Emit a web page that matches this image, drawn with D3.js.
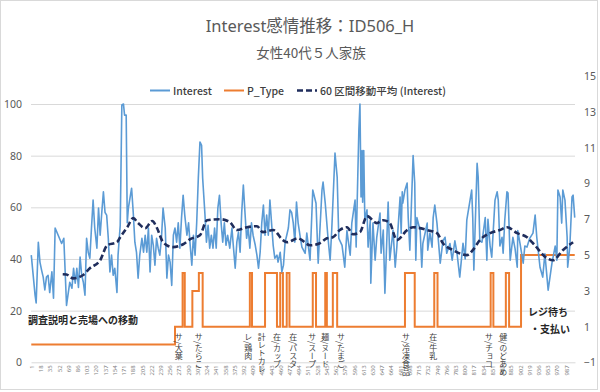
<!DOCTYPE html>
<html><head><meta charset="utf-8">
<script src="https://cdn.jsdelivr.net/npm/d3@7"></script>
<style>body{margin:0;background:#fff}</style>
</head><body><svg id="c" width="600" height="392"></svg>
<script>
const titleText = "Interest感情推移：ID506_H";
const subtitleText = "女性40代５人家族";
const categoryCount = 1003;
const xTickLabels = [1,18,35,52,69,86,103,120,137,154,171,188,205,222,239,256,273,290,307,324,341,358,375,392,409,426,443,460,477,494,511,528,545,562,579,596,613,630,647,664,681,698,715,732,749,766,783,800,817,834,851,868,885,902,919,936,953,970,987];
const leftTicks = [0,20,40,60,80,100];
const rightTicks = [-1,1,3,5,7,9,11,13,15];
const seriesNames = ["Interest","P_Type","60 区間移動平均 (Interest)"];

const interestCat = [1,8,10,14,17,20,23,26,29,32,35,39,42,45,57,61,66,72,76,79,82,85,88,91,94,97,100,103,106,109,112,115,118,122,125,128,131,134,137,140,143,146,149,152,155,159,161,165,168,171,173,176,178,180,183,186,189,192,195,198,201,205,208,211,214,217,220,223,226,229,232,235,238,241,244,248,251,254,257,260,263,266,269,272,275,278,281,284,288,291,294,297,300,303,306,309,312,315,317,319,321,324,327,330,333,336,339,342,345,348,351,354,357,360,363,367,371,373,377,380,383,386,389,392,395,398,401,404,407,410,414,417,420,423,426,429,432,435,438,441,444,447,450,454,456,460,463,466,469,472,475,478,481,484,487,490,493,497,500,506,509,515,520,526,530,537,539,543,548,552,555,561,565,568,574,579,583,589,592,598,600,603,605,607,609,611,612,614,616,620,622,626,627,631,635,638,644,646,650,653,659,662,668,672,675,681,683,685,686,690,694,696,699,705,708,710,712,718,721,723,731,732,736,740,742,745,749,755,760,764,767,773,777,782,786,791,797,801,804,810,813,815,817,823,825,828,832,838,841,843,847,850,856,860,862,865,869,871,874,878,880,884,889,893,897,898,902,908,911,915,920,926,930,933,939,944,948,954,961,967,970,972,976,979,981,985,989,990,994,998,1000,1003];
const interestVal = [41.5,26,23,46.5,38.8,35.7,33,28,33,33.7,27,35,24.8,52,46,48,22,31,28.7,36.4,30.6,36.4,29,40.7,33.7,31,26,48,42.6,40.3,52,62.8,52,44.2,59.7,49.2,58,66,58,57,48,35,41.5,33.7,36.4,27,41.5,53,99.6,100,95.7,95.7,54,59.7,63.6,67.4,58,46.5,42.6,32.6,41.5,48,42.6,49.2,42.6,52,35,49.2,45.3,37.6,48,44.2,41.5,48,59.7,52,32.6,41.5,38.8,29.8,49.2,52,46.5,54,44.2,55.8,64.7,57,49.2,54,45.3,37.6,49.2,41.5,54,71.3,85.3,84,71.3,64.7,58,46.5,53,44.2,49.2,44.2,52,44.2,59.7,64.7,54,46.5,54,45.3,49.2,44.2,52,46.5,36.4,46.5,50.4,42.6,58,68.6,58,48,52,44.2,54,49.2,45.3,41.5,36.4,42.6,54,60.9,49.2,57,49.2,62.8,54,45.3,40.3,41.5,38.8,42.6,35,37.6,46.5,49.2,52,59,58,54,46.5,62,54,48.4,44.6,42.2,50,39.5,66.7,61.6,38.4,66.7,69.8,61.6,48.4,39.5,51.2,81,71.7,48,45.3,36.8,51,41.5,53.9,62.8,44.6,72,90,100,64,82,62,82,55,59,44.6,55,30.6,53.9,39.5,48.4,57.8,42.2,51.2,26.7,62,39.5,51.2,36.8,44.6,64,50,66,61.6,66.7,69.4,56,43.4,80,69.4,39.5,56,51,36.8,46,53.9,43.4,50,44.6,56,60.9,53.9,38.4,47,48.4,42.2,46,39.5,47,42.2,33,46.1,40,55,62.8,66.7,56,35.7,77,71.7,47,46.5,56,39.5,55.4,45,40.7,62.8,66,62.8,45,48.4,42.2,55,66,65.5,39.5,48.4,44,36.8,51,46.1,38.4,45,44.6,48,50,57,48.4,36.8,33,42,27.9,38.4,45,39.5,66.7,64,53.9,66.7,62.8,48.4,36.8,45,64,64.7,56];

const maCat = [59,66,78,96,109,128,141,159,165,178,189,198,211,224,233,244,262,281,294,312,325,349,367,380,399,417,428,447,465,473,493,497,515,533,546,557,570,583,594,607,620,638,650,662,675,694,705,731,749,760,779,804,815,828,847,865,878,897,915,926,952,963,981,1000];
const maVal = [34.1,34,32.5,33.7,36.4,39.5,45.3,46.5,48.4,52.3,55.8,53.9,51.9,54.7,51.9,46.5,44.6,45.7,47.7,49.2,55,55.4,54.3,51.2,52.3,52.7,50.4,51.2,47.3,46.5,48,47.7,45.3,46.1,48,48.4,51.2,52.3,49.6,50.4,56.6,53.9,55,53.9,47.3,51.2,52.3,51.2,50,46.1,43.4,41.5,43.4,47.3,50,51.2,52.3,50,48.4,46.1,40.3,39.5,43.4,46.5];

const pTypeStart = [1,266,280,284,298,310,317,404,408,432,454,460,465,472,477,520,526,543,546,557,565,690,708,744,750,848,853,876,882,904];
const pTypeVal   = [0,1,4,1,3,4,1,4,1,4,1,4,1,4,1,4,1,4,1,4,1,4,1,4,1,4,1,4,1,5];

const eventLabels = ["サ/大葉","サ/たらこ","レ/鶏肉","計レトカレ","在/カップ","在/パスタ","サ/スープ","麺/ヌード","サ/たまご","サ/冷凍食品","在/牛乳","サ/チョコ","健/のどあめ"];
const eventCat = [273,310,401,426,454,484,519,543,572,692,742,845,871];
const noteTexts = ["調査説明と売場への移動","レジ待ち","・支払い"];

const svg = d3.select("#c");
const FONT = "'Noto Sans','Noto Sans CJK JP',sans-serif";
const JFONT = "'Noto Sans CJK JP','Noto Sans',sans-serif";

svg.append("rect").attr("x",0.5).attr("y",0.5).attr("width",597).attr("height",389)
  .attr("fill","#fff").attr("stroke","#d9d9d9");

const x = d3.scaleLinear().domain([0.5, categoryCount + 0.5]).range([31, 575]);
const yL = d3.scaleLinear().domain([0, 100]).range([362.3, 104]);
const yR = d3.scaleLinear().domain([-1, 15]).range([362.5, 76]);

// gridlines + left axis
const gL = svg.append("g").attr("transform","translate(31,0)")
  .call(d3.axisLeft(yL).tickValues(leftTicks).tickSize(-544).tickPadding(9));
gL.select(".domain").remove();
gL.selectAll(".tick line").attr("stroke","#d9d9d9");
gL.selectAll(".tick line").filter(d => d === 0).remove();
gL.selectAll("text").attr("fill","#595959").style("font-family",FONT).style("font-size","10.5px");

// right axis
const gR = svg.append("g").attr("transform","translate(575,0)")
  .call(d3.axisRight(yR).tickValues(rightTicks).tickSize(0).tickPadding(9));
gR.select(".domain").remove();
gR.selectAll("text").attr("fill","#595959").style("font-family",FONT).style("font-size","10.5px");

// x axis
const gX = svg.append("g").attr("transform","translate(0,362.3)")
  .call(d3.axisBottom(x).tickValues(xTickLabels).tickSize(0).tickFormat(d3.format("d")));
gX.select(".domain").attr("stroke","#d9d9d9");
gX.selectAll("text").attr("fill","#7f7f7f").style("font-family",FONT).style("font-size","6px")
  .attr("transform","rotate(-90)").attr("x",-3).attr("y",0).attr("dy","0.35em").style("text-anchor","end");

// P_Type step line
const pPts = pTypeStart.map((s,i) => [s, pTypeVal[i]]);
pPts.push([categoryCount, pTypeVal[pTypeVal.length-1]]);
svg.append("path").datum(pPts)
  .attr("fill","none").attr("stroke","#ED7D31").attr("stroke-width",2)
  .attr("d", d3.line().x(d => x(d[0])).y(d => yR(d[1])).curve(d3.curveStepAfter));

// Interest line
const iPts = interestCat.map((c,i) => [c, interestVal[i]]);
svg.append("path").datum(iPts)
  .attr("fill","none").attr("stroke","#5B9BD5").attr("stroke-width",1.6).attr("stroke-linejoin","round")
  .attr("d", d3.line().x(d => x(d[0])).y(d => yL(d[1])));

// Moving average
const mPts = maCat.map((c,i) => [c, maVal[i]]);
svg.append("path").datum(mPts)
  .attr("fill","none").attr("stroke","#1F2D5C").attr("stroke-width",2.6).attr("stroke-dasharray","6,3")
  .attr("d", d3.line().x(d => x(d[0])).y(d => yL(d[1])).curve(d3.curveMonotoneX));

// event labels (vertical)
svg.append("g").selectAll("text").data(eventLabels).join("text")
  .attr("x", (d,i) => x(eventCat[i])).attr("y", 333)
  .style("writing-mode","vertical-rl")
  .style("font-family",JFONT).style("font-size","8px").attr("fill","#404040")
  .text(d => d);

// notes
svg.append("text").attr("x",28).attr("y",324).text(noteTexts[0])
  .style("font-family",JFONT).style("font-size","10px").style("font-weight","bold").attr("fill","#262626");
svg.append("text").attr("x",528).attr("y",316).text(noteTexts[1])
  .style("font-family",JFONT).style("font-size","10px").style("font-weight","bold").attr("fill","#262626");
svg.append("text").attr("x",530).attr("y",333).text(noteTexts[2])
  .style("font-family",JFONT).style("font-size","10px").style("font-weight","bold").attr("fill","#262626");

// title
svg.append("text").attr("x",310).attr("y",32).attr("text-anchor","middle").text(titleText)
  .style("font-family",FONT).style("font-size","16.5px").attr("fill","#595959");
svg.append("text").attr("x",311).attr("y",58).attr("text-anchor","middle").text(subtitleText)
  .style("font-family",JFONT).style("font-size","13.5px").attr("fill","#595959");

// legend
const leg = svg.append("g");
const legItems = [
  {x1:150, color:"#5B9BD5", w:2, dash:null},
  {x1:224, color:"#ED7D31", w:2, dash:null},
  {x1:297, color:"#1F2D5C", w:2.6, dash:"6,3"}
];
legItems.forEach((it,i) => {
  leg.append("line").attr("x1",it.x1).attr("x2",it.x1+20).attr("y1",90.5).attr("y2",90.5)
    .attr("stroke",it.color).attr("stroke-width",it.w).attr("stroke-dasharray",it.dash);
  leg.append("text").attr("x",it.x1+23).attr("y",94.5).text(seriesNames[i])
    .style("font-family",JFONT).style("font-size","10.5px").style("font-weight","500").attr("fill","#404040");
});
</script></body></html>
